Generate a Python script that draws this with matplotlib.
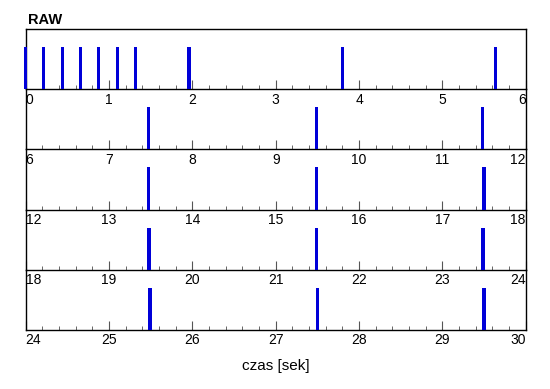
import matplotlib
matplotlib.use("Agg")
import matplotlib.pyplot as plt
import numpy as np

plt.rcParams['font.family'] = ['Liberation Sans', 'DejaVu Sans']

# event times (seconds)
event_times = [0.0, 0.216, 0.44, 0.66, 0.876, 1.10, 1.32, 1.958, 3.80, 5.64,
               7.472, 9.488, 11.48,
               13.475, 15.49, 17.50,
               19.48, 21.49, 23.49,
               25.49, 27.50, 29.50]
panel_starts = [0, 6, 12, 18, 24]
panel_span = 6
bar_height = 0.7

title = "RAW"
xlabel = "czas [sek]"

W, H = 550, 389
fig = plt.figure(figsize=(W / 100, H / 100), dpi=100)

left_px, right_px = 25.7, 525.7
top_px, bottom_px = 29, 330
n = len(panel_starts)
ph = (bottom_px - top_px) / n
axes = []
for i, s in enumerate(panel_starts):
    y0 = bottom_px - (n - i - 1) * ph
    ax = fig.add_axes([left_px / W, 1 - y0 / H, (right_px - left_px) / W, ph / H])
    ax.set_facecolor('none')
    ax.set_xlim(s, s + panel_span)
    ax.set_ylim(0, 1)
    t = [x for x in event_times if s <= x <= s + panel_span]
    ax.bar(t, [bar_height] * len(t), width=0.042, color='#0000d8', clip_on=False, zorder=3)
    ax.set_yticks([])
    ax.set_xticks(np.arange(s, s + panel_span + 0.5, 1))
    ax.set_xticks(np.arange(s, s + panel_span + 0.01, 0.2), minor=True)
    ax.tick_params(axis='x', which='major', direction='in', length=6.5, width=0.8,
                   color='#555555', labelsize=10, pad=2.5)
    ax.tick_params(axis='x', which='minor', direction='in', length=3, width=0.7,
                   color='#666666')
    labels = ax.set_xticklabels([str(int(v)) for v in np.arange(s, s + panel_span + 0.5, 1)])
    labels[0].set_ha('left')
    labels[-1].set_ha('right')
    for sp in ax.spines.values():
        sp.set_linewidth(1.0)
    if i > 0:
        ax.spines['top'].set_visible(False)
    axes.append(ax)

axes[0].text(0.005, 1.03, title, transform=axes[0].transAxes, fontsize=10.5,
             fontweight='bold', ha='left', va='bottom')
fig.text((left_px + right_px) / 2 / W, 1 - 366 / H, xlabel, ha='center', va='center',
         fontsize=11)

fig.savefig('out.png', dpi=100)
